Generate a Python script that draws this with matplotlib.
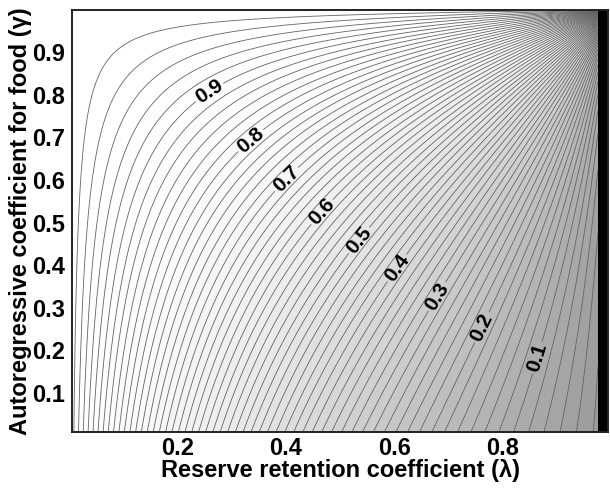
import numpy as np
import matplotlib
matplotlib.use('Agg')
import matplotlib.pyplot as plt

# Axis ticks
x_ticks = [0.2, 0.4, 0.6, 0.8]
y_ticks = [0.1, 0.2, 0.3, 0.4, 0.5, 0.6, 0.7, 0.8, 0.9]

# Contour levels (six per 0.1 step), labelled ones every 0.1
levels = np.round(np.arange(1, 60) / 60, 4)
label_levels = [0.1, 0.2, 0.3, 0.4, 0.5, 0.6, 0.7, 0.8, 0.9]

# Label positions (lambda, gamma)
label_lam = [0.874, 0.771, 0.688, 0.614, 0.540, 0.471, 0.407, 0.338, 0.264]
label_gam = [0.178, 0.248, 0.319, 0.385, 0.453, 0.520, 0.594, 0.688, 0.796]

# grid of reserve retention (lambda) and food autoregression (gamma)
lam = np.linspace(0.001, 0.976, 700)
gam = np.linspace(0.001, 0.9995, 700)
L, G = np.meshgrid(lam, gam)
Z = (1 - L) * (1 + L * G) / ((1 + L) * (1 - L * G))

plt.rcParams['font.family'] = ['Liberation Sans', 'DejaVu Sans']

fig = plt.figure(figsize=(6.1, 4.93), dpi=100)
ax = fig.add_axes([0.118, 0.124, 0.879, 0.856])
ax.set_facecolor('black')

# grey shading: light almost everywhere, darker toward low values
bands = np.concatenate([[0.0], levels, [1.0]])
mids = (bands[:-1] + bands[1:]) / 2
greys = 1 - 0.40 * (1 - mids) ** 2
ax.contourf(L, G, Z, levels=bands, colors=[(g, g, g) for g in greys])

plain_levels = [v for v in levels if not np.any(np.isclose(v, label_levels))]
ax.contour(L, G, Z, levels=plain_levels, colors='#646464', linewidths=0.6)
cs = ax.contour(L, G, Z, levels=label_levels, colors='#646464', linewidths=0.6)
cl = ax.clabel(cs, inline=True, fmt='%.1f', fontsize=15,
               manual=list(zip(label_lam, label_gam)), inline_spacing=2)
for t in cl:
    t.set_fontweight('bold')
    t.set_color('black')

ax.set_xlim(0.005, 0.995)
ax.set_ylim(0.008, 1.0)
ax.set_xticks(x_ticks)
ax.set_xticklabels([f'{v:.1f}' for v in x_ticks])
ax.set_yticks(y_ticks)
ax.set_yticklabels([f'{v:.1f}' for v in y_ticks])
ax.tick_params(length=0, labelsize=17)
ax.tick_params(axis='x', pad=4)
ax.tick_params(axis='y', pad=5)
for t in ax.get_xticklabels() + ax.get_yticklabels():
    t.set_fontweight('bold')

for s in ax.spines.values():
    s.set_linewidth(1.4)
    s.set_color('#222222')

ax.set_xlabel('Reserve retention coefficient (λ)', fontsize=17, fontweight='bold', labelpad=-1)
ax.set_ylabel('Autoregressive coefficient for food (γ)', fontsize=17, fontweight='bold', labelpad=0)

fig.savefig('out.png', dpi=100)
